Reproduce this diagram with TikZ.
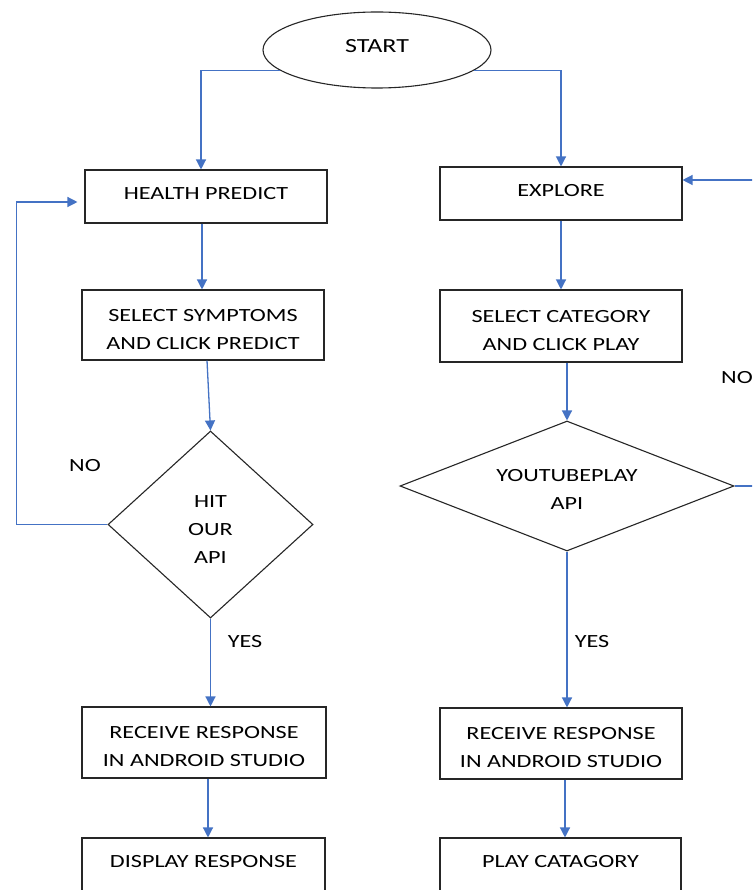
\documentclass[tikz,border=0pt]{standalone}
\usepackage{fontspec}
\setmainfont[FakeStretch=1.3]{Carlito}
\usetikzlibrary{arrows.meta,shapes.geometric}
\definecolor{flowblue}{HTML}{4472C4}
\begin{document}
\begin{tikzpicture}[x=1pt,y=-1pt,
  txt/.style={font=\fontsize{18.6}{28}\selectfont, text=black},
  stepbox/.style={txt, draw=black!85, line width=1.1pt, rectangle, inner sep=0pt, align=center},
  oneline/.style={text height=12pt, text depth=5pt},
  topline/.style={text height=0pt, text depth=14pt},
  twoline/.style={text height=48pt, text depth=0pt},
  decision/.style={txt, draw=black!85, line width=1.1pt, diamond, inner sep=0pt, align=center},
  flow/.style={draw=flowblue, line width=1.3pt, -{Triangle[length=10pt,width=10pt]}},
  lab/.style={txt}
]
\useasboundingbox (0,0) rectangle (752,890);
\clip (0,0) rectangle (752,890);
\fill[white] (0,0) rectangle (752,890);

% start
\node[ellipse, draw=black!85, line width=1.1pt, minimum width=228pt, minimum height=76pt, inner sep=0pt,
      font=\fontsize{20}{24}\selectfont, text height=12pt, text depth=6pt] (start) at (377,50) {START};

% left column
\node[stepbox, oneline, minimum width=242pt, minimum height=53pt] (hp) at (206,196.5) {HEALTH PREDICT};
\node[stepbox, twoline, minimum width=242pt, minimum height=70pt] (sel) at (203,325) {SELECT SYMPTOMS\\AND CLICK PREDICT};
\node[decision, text height=78pt, text depth=0pt, shape aspect=1.1, minimum width=205pt, minimum height=187pt] (hit) at (210.5,524.5) {HIT\\OUR\\API};
\node[stepbox, twoline, minimum width=244pt, minimum height=71pt] (rl) at (204,742.5) {RECEIVE RESPONSE\\IN ANDROID STUDIO};
\node[stepbox, topline, minimum width=243pt, minimum height=72pt] (dl) at (203.5,874) {DISPLAY RESPONSE};

% right column
\node[stepbox, oneline, minimum width=242pt, minimum height=53pt] (ex) at (561,193.5) {EXPLORE};
\node[stepbox, twoline, minimum width=242pt, minimum height=72pt] (sc) at (561,326) {SELECT CATEGORY\\AND CLICK PLAY};
\node[decision, text height=46pt, text depth=0pt, shape aspect=2.57, minimum width=334pt, minimum height=130pt] (yt) at (567,486) {YOUTUBEPLAY\\API};
\node[stepbox, twoline, minimum width=242pt, minimum height=71pt] (rr) at (561,743.5) {RECEIVE RESPONSE\\IN ANDROID STUDIO};
\node[stepbox, topline, minimum width=241pt, minimum height=72pt] (pc) at (560.5,874) {PLAY CATAGORY};

% labels
\node[lab] (no1) at (85,466) {NO};
\node[lab] (yes1) at (245,642) {YES};
\node[lab] (yes2) at (592,642) {YES};
\node[lab] (no2) at (737,378) {NO};

% connectors
\draw[flow] (start.192.5) -| ([xshift=-5pt]hp.north);
\draw[flow] (start.348.8) -| (ex.north);
\draw[flow] ([xshift=-4pt]hp.south) -- ([xshift=-4pt]hp.south |- sel.north);
\draw[flow] ([xshift=4pt]sel.south) -- (hit.north);
\draw[flow] (hit.south) -- (hit.south |- rl.north);
\draw[flow] ([xshift=4pt]rl.south) -- ([xshift=4pt]rl.south |- dl.north);
\draw[flow, shorten >=7pt] (hit.west) -- ++(-91,0) |- ([yshift=-5.5pt]hp.west);

\draw[flow] (ex.south) -- (ex.south |- sc.north);
\draw[flow] (yt.north |- sc.south) -- (yt.north);
\draw[flow] (yt.south) -- (yt.south |- rr.north);
\draw[flow] ([xshift=4pt]rr.south) -- ([xshift=4pt]rr.south |- pc.north);
\draw[flow] (yt.east) -- ++(40,0) |- ([yshift=13.5pt]ex.east);
\end{tikzpicture}
\end{document}
